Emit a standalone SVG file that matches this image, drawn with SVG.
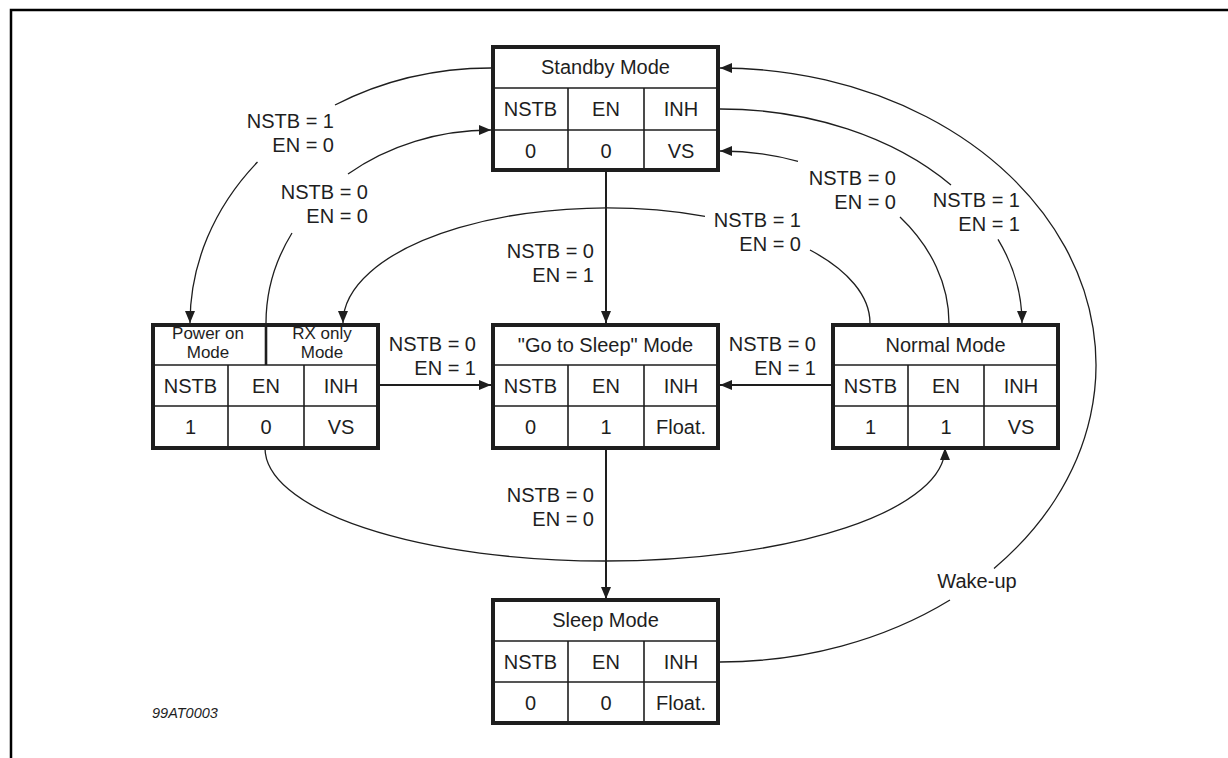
<svg xmlns="http://www.w3.org/2000/svg" width="1228" height="758" viewBox="0 0 1228 758">
  <defs>
    <marker id="arrow" markerUnits="userSpaceOnUse" markerWidth="13" markerHeight="11" refX="12" refY="5" orient="auto">
      <path d="M0,0 L12,5 L0,10 z" fill="#1e1e1e"/>
    </marker>
  </defs>
  <style>
    text { font-family: "Liberation Sans", Arial, sans-serif; fill: #1e1e1e; }
    .t { font-size: 20px; text-anchor: middle; }
    .hs { font-size: 17px; text-anchor: middle; }
    .lbl { font-size: 20px; text-anchor: end; }
    .wk { font-size: 20px; text-anchor: middle; }
    .ref { font-size: 14.5px; font-style: italic; }
    .box { fill: #ffffff; stroke: #1e1e1e; stroke-width: 4; }
    .grid { stroke: #1e1e1e; stroke-width: 1.6; fill: none; }
    .div { stroke: #1e1e1e; stroke-width: 2.6; fill: none; }
    .curve { stroke: #1e1e1e; stroke-width: 1.3; fill: none; }
    .line { stroke: #1e1e1e; stroke-width: 2; fill: none; }
    .frame { stroke: #000; stroke-width: 2.5; fill: none; }
  </style>

  <!-- page frame -->
  <path class="frame" d="M11,758 L11,10 L1228,10"/>

  <!-- transitions -->
  <g id="connectors">
    <!-- Standby -> Power on -->
    <path class="curve" d="M491,68 A301,255 0 0 0 335,105"/>
    <path class="curve" d="M257.5,162 A301,255 0 0 0 190,323" marker-end="url(#arrow)"/>
    <!-- Power on / RX only -> Standby -->
    <path class="curve" d="M266,323 A225,193 0 0 1 292,233"/>
    <path class="curve" d="M348,174 A225,193 0 0 1 491,130" marker-end="url(#arrow)"/>
    <!-- Standby -> Go to Sleep -->
    <path class="line" d="M606,172 L606,323" marker-end="url(#arrow)"/>
    <!-- Normal -> RX only -->
    <path class="curve" d="M870,323 A263.5,115 0 0 0 810,250"/>
    <path class="curve" d="M705,216.3 A263.5,115 0 0 0 343,323" marker-end="url(#arrow)"/>
    <!-- Normal -> Standby -->
    <path class="curve" d="M949,323 A229,172 0 0 0 900,217"/>
    <path class="curve" d="M798,161.3 A229,172 0 0 0 720,151" marker-end="url(#arrow)"/>
    <!-- Standby -> Normal -->
    <path class="curve" d="M720,109 A302,214 0 0 1 951,185"/>
    <path class="curve" d="M998,239.3 A302,214 0 0 1 1022,323" marker-end="url(#arrow)"/>
    <!-- Sleep -> Standby (wake-up) -->
    <path class="curve" d="M720,662 A376,297 0 0 0 950,600"/>
    <path class="curve" d="M994,568.4 A376,297 0 0 0 720,68" marker-end="url(#arrow)"/>
    <!-- Power on -> Normal -->
    <path class="curve" d="M265,448 A340,113 0 0 0 605,561 A340,113 0 0 0 945,448" marker-end="url(#arrow)"/>
    <!-- Power on -> Go to Sleep -->
    <path class="line" d="M379,385 L491,385" marker-end="url(#arrow)"/>
    <!-- Normal -> Go to Sleep -->
    <path class="line" d="M831,385 L720,385" marker-end="url(#arrow)"/>
    <!-- Go to Sleep -> Sleep -->
    <path class="line" d="M606,448 L606,599" marker-end="url(#arrow)"/>
  </g>

  <!-- transition labels -->
  <g id="labels">
    <text class="lbl" x="334" y="128">NSTB = 1</text>
    <text class="lbl" x="334" y="152">EN = 0</text>
    <text class="lbl" x="368" y="199">NSTB = 0</text>
    <text class="lbl" x="368" y="223">EN = 0</text>
    <text class="lbl" x="594" y="258">NSTB = 0</text>
    <text class="lbl" x="594" y="282">EN = 1</text>
    <text class="lbl" x="801" y="227">NSTB = 1</text>
    <text class="lbl" x="801" y="251">EN = 0</text>
    <text class="lbl" x="896" y="185">NSTB = 0</text>
    <text class="lbl" x="896" y="209">EN = 0</text>
    <text class="lbl" x="1020" y="207">NSTB = 1</text>
    <text class="lbl" x="1020" y="231">EN = 1</text>
    <text class="lbl" x="476" y="351">NSTB = 0</text>
    <text class="lbl" x="476" y="375">EN = 1</text>
    <text class="lbl" x="816" y="351">NSTB = 0</text>
    <text class="lbl" x="816" y="375">EN = 1</text>
    <text class="lbl" x="594" y="502">NSTB = 0</text>
    <text class="lbl" x="594" y="526">EN = 0</text>
    <text class="wk" x="977" y="588">Wake-up</text>
  </g>

  <!-- Standby Mode -->
  <g id="standby">
    <rect class="box" x="493" y="47" width="225" height="123"/>
    <path class="grid" d="M493,88 H718 M493,130 H718 M568,88 V170 M644,88 V170"/>
    <text class="t" x="605.5" y="74">Standby Mode</text>
    <text class="t" x="530.5" y="116">NSTB</text>
    <text class="t" x="606" y="116">EN</text>
    <text class="t" x="681" y="116">INH</text>
    <text class="t" x="530.5" y="158">0</text>
    <text class="t" x="606" y="158">0</text>
    <text class="t" x="681" y="158">VS</text>
  </g>

  <!-- Power on / RX only Mode -->
  <g id="poweron">
    <rect class="box" x="153" y="325" width="225" height="123"/>
    <path class="grid" d="M153,365 H378 M153,406 H378 M228,365 V448 M304,365 V448"/>
    <path class="div" d="M266,325 V365"/>
    <text class="hs" x="208" y="339">Power on</text>
    <text class="hs" x="208" y="358">Mode</text>
    <text class="hs" x="322" y="339">RX only</text>
    <text class="hs" x="322" y="358">Mode</text>
    <text class="t" x="190.5" y="393">NSTB</text>
    <text class="t" x="266" y="393">EN</text>
    <text class="t" x="341" y="393">INH</text>
    <text class="t" x="190.5" y="434">1</text>
    <text class="t" x="266" y="434">0</text>
    <text class="t" x="341" y="434">VS</text>
  </g>

  <!-- "Go to Sleep" Mode -->
  <g id="gotosleep">
    <rect class="box" x="493" y="325" width="225" height="123"/>
    <path class="grid" d="M493,365 H718 M493,406 H718 M568,365 V448 M644,365 V448"/>
    <text class="t" x="605.5" y="352">"Go to Sleep" Mode</text>
    <text class="t" x="530.5" y="393">NSTB</text>
    <text class="t" x="606" y="393">EN</text>
    <text class="t" x="681" y="393">INH</text>
    <text class="t" x="530.5" y="434">0</text>
    <text class="t" x="606" y="434">1</text>
    <text class="t" x="681" y="434">Float.</text>
  </g>

  <!-- Normal Mode -->
  <g id="normal">
    <rect class="box" x="833" y="325" width="225" height="123"/>
    <path class="grid" d="M833,365 H1058 M833,406 H1058 M908,365 V448 M984,365 V448"/>
    <text class="t" x="945.5" y="352">Normal Mode</text>
    <text class="t" x="870.5" y="393">NSTB</text>
    <text class="t" x="946" y="393">EN</text>
    <text class="t" x="1021" y="393">INH</text>
    <text class="t" x="870.5" y="434">1</text>
    <text class="t" x="946" y="434">1</text>
    <text class="t" x="1021" y="434">VS</text>
  </g>

  <!-- Sleep Mode -->
  <g id="sleep">
    <rect class="box" x="493" y="600" width="225" height="123"/>
    <path class="grid" d="M493,641 H718 M493,682 H718 M568,641 V723 M644,641 V723"/>
    <text class="t" x="605.5" y="627">Sleep Mode</text>
    <text class="t" x="530.5" y="669">NSTB</text>
    <text class="t" x="606" y="669">EN</text>
    <text class="t" x="681" y="669">INH</text>
    <text class="t" x="530.5" y="710">0</text>
    <text class="t" x="606" y="710">0</text>
    <text class="t" x="681" y="710">Float.</text>
  </g>

  <text class="ref" x="152" y="718">99AT0003</text>
</svg>
